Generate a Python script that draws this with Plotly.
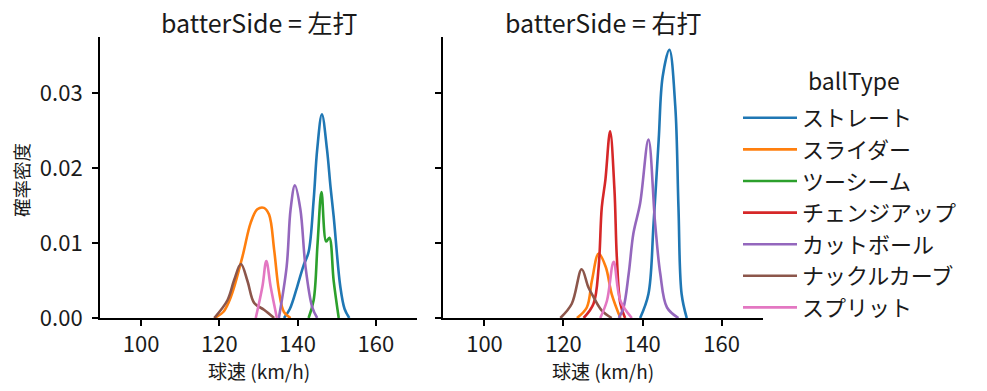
import plotly.graph_objects as go

FONT = "Noto Sans CJK JP"

ball_types = ["ストレート", "スライダー", "ツーシーム", "チェンジアップ", "カットボール", "ナックルカーブ", "スプリット"]
colors = ["#1f77b4", "#ff7f0e", "#2ca02c", "#d62728", "#9467bd", "#8c564b", "#e377c2"]
panels = ["左打", "右打"]
x_ticks = [100, 120, 140, 160]
y_ticks = [0.00, 0.01, 0.02, 0.03]

# Density curves (km/h, density)
left_x = {
    "ストレート": [136.5, 138.0, 139.9, 141.5, 142.8, 144.1, 145.0, 146.2, 147.5, 148.4, 149.2, 150.9, 152.0, 153.2],
    "スライダー": [118.7, 121.0, 123.0, 125.9, 128.0, 129.7, 131.4, 132.7, 134.0, 135.2, 136.5, 138.2],
    "ツーシーム": [142.8, 144.1, 145.1, 146.1, 147.3, 148.1, 149.2, 150.5],
    "チェンジアップ": [],
    "カットボール": [135.2, 137.2, 138.2, 139.3, 140.7, 142.0, 143.7, 145.0],
    "ナックルカーブ": [118.7, 122.1, 123.8, 125.5, 127.2, 128.9, 131.4, 134.0],
    "スプリット": [129.3, 131.0, 132.0, 133.1, 134.7],
}
left_y = {
    "ストレート": [0.0, 0.0012, 0.0042, 0.0070, 0.0088, 0.0158, 0.0225, 0.0272, 0.0225, 0.0175, 0.0136, 0.0042, 0.0012, 0.0],
    "スライダー": [0.0, 0.0008, 0.0029, 0.0082, 0.0127, 0.0145, 0.0147, 0.0138, 0.0091, 0.0037, 0.0008, 0.0],
    "ツーシーム": [0.0, 0.0024, 0.0100, 0.0168, 0.0102, 0.0107, 0.0050, 0.0],
    "チェンジアップ": [],
    "カットボール": [0.0, 0.0069, 0.0145, 0.0177, 0.0145, 0.0069, 0.0015, 0.0],
    "ナックルカーブ": [0.0, 0.0024, 0.0051, 0.0072, 0.0049, 0.0020, 0.0011, 0.0],
    "スプリット": [0.0, 0.0042, 0.0076, 0.0042, 0.0],
}
right_x = {
    "ストレート": [139.4, 141.5, 142.8, 144.1, 145.1, 146.8, 148.3, 149.1, 149.9, 151.2],
    "スライダー": [123.4, 125.9, 127.2, 128.9, 130.7, 132.2, 134.4],
    "ツーシーム": [],
    "チェンジアップ": [125.1, 127.6, 128.9, 129.7, 130.6, 131.8, 132.9, 133.5, 134.4, 135.6],
    "カットボール": [134.0, 135.2, 136.5, 137.7, 139.4, 141.5, 143.2, 144.5, 146.2, 149.1],
    "ナックルカーブ": [119.2, 122.1, 124.6, 126.3, 127.6, 129.7, 132.2],
    "スプリット": [129.3, 131.0, 132.7, 134.4, 137.3],
}
right_y = {
    "ストレート": [0.0, 0.0032, 0.0126, 0.0238, 0.0322, 0.0358, 0.0282, 0.0148, 0.0032, 0.0],
    "スライダー": [0.0, 0.0014, 0.0050, 0.0086, 0.0068, 0.0032, 0.0],
    "ツーシーム": [],
    "チェンジアップ": [0.0, 0.0019, 0.0068, 0.0148, 0.0184, 0.0249, 0.0171, 0.0081, 0.0019, 0.0],
    "カットボール": [0.0, 0.0014, 0.0059, 0.0113, 0.0153, 0.0238, 0.0126, 0.0059, 0.0014, 0.0],
    "ナックルカーブ": [0.0, 0.0019, 0.0065, 0.0041, 0.0028, 0.0010, 0.0],
    "スプリット": [0.0, 0.0023, 0.0075, 0.0023, 0.0],
}

W, H, OFF = 987, 391, 8  # page body margin offsets the figure by 8px


def px(x):
    return (x - OFF) / W


def py(y):
    return 1 - (y - OFF) / H


fig = go.Figure()
for i, bt in enumerate(ball_types):
    shown = False
    for (xs, ys, xa, ya) in [(left_x, left_y, "x", "y"), (right_x, right_y, "x2", "y2")]:
        has_data = len(xs[bt]) > 0
        fig.add_trace(go.Scatter(
            x=xs[bt], y=ys[bt], mode="lines", name=bt, xaxis=xa, yaxis=ya,
            line=dict(color=colors[i], width=2.6, shape="spline", smoothing=1.0),
            legendgroup=bt, legendrank=i + 1, showlegend=(has_data and not shown),
        ))
        if has_data:
            shown = True

TXT = "#1a1a1a"
axis_common = dict(
    showgrid=False, zeroline=False, showline=True, linecolor="black", linewidth=2,
    ticks="outside", ticklen=6, tickwidth=2, tickcolor="black", automargin=False,
    tickfont=dict(family=FONT, size=22, color=TXT),
)
ydom = [py(318), py(37)]
fig.update_layout(
    width=W, height=H, margin=dict(l=0, r=0, t=0, b=0, autoexpand=False),
    plot_bgcolor="white", paper_bgcolor="white",
    font=dict(family=FONT, color=TXT),
    xaxis=dict(domain=[px(100), px(417)], range=[89.5, 170.5], tickvals=x_ticks, anchor="y", **axis_common),
    xaxis2=dict(domain=[px(443), px(763)], range=[89.5, 170.5], tickvals=x_ticks, anchor="y2", **axis_common),
    yaxis=dict(domain=ydom, range=[0, 0.0375], tickvals=y_ticks, tickformat=".2f", anchor="x",
               ticklabelstandoff=5, **axis_common),
    yaxis2=dict(domain=ydom, range=[0, 0.0375], tickvals=y_ticks, showticklabels=False, anchor="x2", **axis_common),
    legend=dict(
        x=px(738), y=py(97), xanchor="left", yanchor="top",
        font=dict(family=FONT, size=22, color=TXT),
        tracegroupgap=0, itemwidth=54, bgcolor="rgba(0,0,0,0)",
    ),
    annotations=[
        dict(text="ballType", x=px(854), y=py(80), xref="paper", yref="paper", showarrow=False,
             font=dict(family=FONT, size=23, color=TXT), xanchor="center", yanchor="middle"),
        dict(text="batterSide = 左打", x=px(258.5), y=py(22), xref="paper", yref="paper", showarrow=False,
             font=dict(family=FONT, size=25, color=TXT), xanchor="center", yanchor="middle", borderpad=0),
        dict(text="batterSide = 右打", x=px(603), y=py(22), xref="paper", yref="paper", showarrow=False,
             font=dict(family=FONT, size=25, color=TXT), xanchor="center", yanchor="middle", borderpad=0),
        dict(text="球速 (km/h)", x=px(258.5), y=py(370), xref="paper", yref="paper", showarrow=False,
             font=dict(family=FONT, size=19, color=TXT), xanchor="center", yanchor="middle", borderpad=0),
        dict(text="球速 (km/h)", x=px(603), y=py(370), xref="paper", yref="paper", showarrow=False,
             font=dict(family=FONT, size=19, color=TXT), xanchor="center", yanchor="middle", borderpad=0),
        dict(text="確率密度", x=px(21), y=py(180), xref="paper", yref="paper", showarrow=False, textangle=-90,
             font=dict(family=FONT, size=18.5, color=TXT), xanchor="center", yanchor="middle", borderpad=0),
    ],
)
fig.write_html("out.html")
